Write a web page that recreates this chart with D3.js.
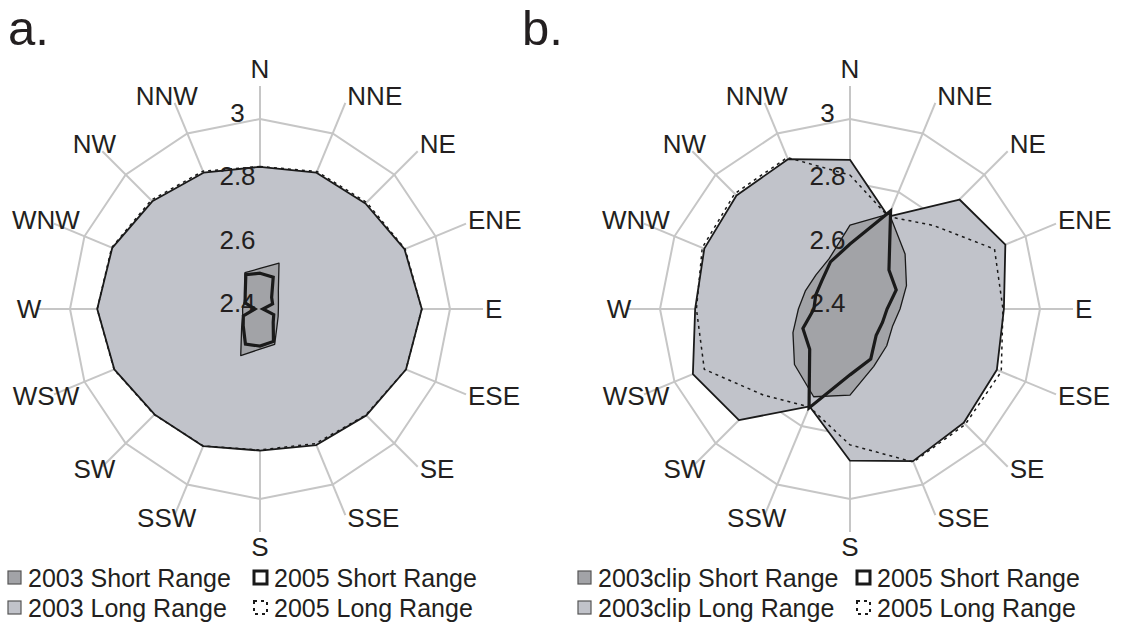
<!DOCTYPE html>
<html>
<head>
<meta charset="utf-8">
<script src="https://cdn.jsdelivr.net/npm/d3@7/dist/d3.min.js"></script>
<style>
  html, body { margin: 0; padding: 0; background: #ffffff; }
  svg { display: block; font-family: "Liberation Sans", Arial, Helvetica, sans-serif; }
</style>
</head>
<body>
<svg id="chart" width="1128" height="634"></svg>
<script>
// Compass directions, clockwise from north
const directions = ["N", "NNE", "NE", "ENE", "E", "ESE", "SE", "SSE",
                    "S", "SSW", "SW", "WSW", "W", "WNW", "NW", "NNW"];
const radialTicks = [2.4, 2.6, 2.8, 3];
const radialDomain = [2.4, 3.0];

// Panel a
const a2003Short = [2.528, 2.557, 2.482, 2.463, 2.458, 2.462, 2.476, 2.521,
                    2.527, 2.559, 2.482, 2.459, 2.455, 2.454, 2.466, 2.524];
const a2005Short = [2.513, 2.509, 2.452, 2.443, 2.409, 2.447, 2.459, 2.511,
                    2.517, 2.520, 2.475, 2.457, 2.416, 2.451, 2.466, 2.517];
const a2003Long  = [2.849, 2.866, 2.871, 2.894, 2.911, 2.899, 2.875, 2.865,
                    2.847, 2.869, 2.871, 2.898, 2.914, 2.905, 2.881, 2.866];
const a2005Long  = [2.850, 2.870, 2.876, 2.896, 2.911, 2.899, 2.873, 2.860,
                    2.845, 2.868, 2.872, 2.899, 2.914, 2.907, 2.886, 2.871];

// Panel b
const b2003Short = [2.665, 2.725, 2.646, 2.593, 2.558, 2.545, 2.564, 2.596,
                    2.672, 2.700, 2.648, 2.595, 2.563, 2.552, 2.552, 2.572];
const b2005Short = [2.605, 2.735, 2.574, 2.558, 2.517, 2.511, 2.517, 2.571,
                    2.608, 2.738, 2.580, 2.561, 2.514, 2.517, 2.526, 2.561];
const b2003Long  = [2.871, 2.716, 2.889, 2.931, 2.886, 2.902, 2.908, 2.920,
                    2.879, 2.733, 2.896, 2.937, 2.889, 2.898, 2.907, 2.912];
const b2005Long  = [2.823, 2.716, 2.773, 2.894, 2.883, 2.917, 2.915, 2.923,
                    2.829, 2.735, 2.785, 2.898, 2.885, 2.905, 2.915, 2.918];

const panelTitles = ["a.", "b."];
const legendA = ["2003 Short Range", "2005 Short Range", "2003 Long Range", "2005 Long Range"];
const legendB = ["2003clip Short Range", "2005 Short Range", "2003clip Long Range", "2005 Long Range"];

const COLORS = {
  grid: "#c6c6c6",
  longFill: "#c1c3ca",
  shortFill: "#a2a3a7",
  ink: "#1a1a1a",
  text: "#231f20"
};

const svg = d3.select("#chart");
const OUTER = 190;
const SPOKE = 223;
const FONT = 26;

const r = d3.scaleLinear().domain(radialDomain).range([0, OUTER]);
const angle = d3.scalePoint().domain(directions).range([0, 2 * Math.PI * (15 / 16)]);

function radarPath(values) {
  return d3.lineRadial()
    .angle((d, i) => angle(directions[i]))
    .radius(d => r(d))
    .curve(d3.curveLinearClosed)(values);
}

// Category label placement just beyond the end of each spoke
function labelPlacement(a) {
  const s = Math.sin(a), c = Math.cos(a);
  const ex = SPOKE * s, ey = -SPOKE * c;
  if (Math.abs(s) < 0.01) {
    return { x: ex, y: ey + (c > 0 ? -17 : 15), anchor: "middle" };
  }
  const dy = c > 0 ? -7.5 * Math.min(1, 1.4 * c) : 3 * (-c);
  if (s > 0) return { x: ex + 2, y: ey + dy, anchor: "start" };
  return { x: ex - 8, y: ey + dy, anchor: "middle" };
}

function drawPanel(cx, cy, title, titleX, series, legendLabels, legendX) {
  const g = svg.append("g").attr("transform", `translate(${cx},${cy})`);

  // grid rings (polygons) and spokes
  radialTicks.filter(t => t > radialDomain[0]).forEach(t => {
    g.append("path")
      .attr("d", radarPath(directions.map(() => t)))
      .attr("fill", "none")
      .attr("stroke", COLORS.grid)
      .attr("stroke-width", 2);
  });
  directions.forEach(d => {
    const a = angle(d);
    g.append("line")
      .attr("x1", 0).attr("y1", 0)
      .attr("x2", SPOKE * Math.sin(a))
      .attr("y2", -SPOKE * Math.cos(a))
      .attr("stroke", COLORS.grid)
      .attr("stroke-width", 2);
  });

  // long range fill and 2005 long range dashed outline
  g.append("path")
    .attr("d", radarPath(series.long2003))
    .attr("fill", COLORS.longFill)
    .attr("stroke", COLORS.ink)
    .attr("stroke-width", 1.8)
    .attr("stroke-linejoin", "round");
  g.append("path")
    .attr("d", radarPath(series.long2005))
    .attr("fill", "none")
    .attr("stroke", COLORS.ink)
    .attr("stroke-width", 1.5)
    .attr("stroke-dasharray", "3,4");

  // short range fill
  g.append("path")
    .attr("d", radarPath(series.short2003))
    .attr("fill", COLORS.shortFill)
    .attr("stroke", COLORS.ink)
    .attr("stroke-width", 1.3)
    .attr("stroke-linejoin", "round");

  // radial tick labels along the north spoke
  radialTicks.forEach(t => {
    g.append("text")
      .attr("x", -22.5)
      .attr("y", -r(t) + 3)
      .attr("text-anchor", "middle")
      .attr("font-size", FONT)
      .attr("fill", COLORS.text)
      .text(t);
  });

  // 2005 short range thick outline
  g.append("path")
    .attr("d", radarPath(series.short2005))
    .attr("fill", "none")
    .attr("stroke", COLORS.ink)
    .attr("stroke-width", 3.2)
    .attr("stroke-linejoin", "miter");

  // direction labels
  directions.forEach(d => {
    const p = labelPlacement(angle(d));
    g.append("text")
      .attr("x", p.x)
      .attr("y", p.y + 0.358 * FONT)
      .attr("text-anchor", p.anchor)
      .attr("font-size", FONT)
      .attr("fill", COLORS.text)
      .text(d);
  });

  // panel title
  svg.append("text")
    .attr("x", titleX)
    .attr("y", 45)
    .attr("font-size", 49)
    .attr("fill", COLORS.text)
    .text(title);

  // legend
  const styles = [
    { fill: COLORS.shortFill, stroke: "#555", sw: 1.2, dash: null },
    { fill: "#fff", stroke: COLORS.ink, sw: 3, dash: null },
    { fill: COLORS.longFill, stroke: "#555", sw: 1.2, dash: null },
    { fill: "none", stroke: COLORS.ink, sw: 2, dash: "3,4" }
  ];
  const rowY = [587, 617];
  legendLabels.forEach((lab, i) => {
    const col = i % 2, row = Math.floor(i / 2);
    const lx = legendX[col], ly = rowY[row];
    const st = styles[i];
    svg.append("rect")
      .attr("x", lx + 1).attr("y", ly - 16)
      .attr("width", 13).attr("height", 13)
      .attr("fill", st.fill)
      .attr("stroke", st.stroke)
      .attr("stroke-width", st.sw)
      .attr("stroke-dasharray", st.dash);
    svg.append("text")
      .attr("x", lx + 21)
      .attr("y", ly)
      .attr("font-size", 25)
      .attr("fill", COLORS.text)
      .text(lab);
  });
}

drawPanel(260, 309, panelTitles[0], 8,
  { short2003: a2003Short, short2005: a2005Short, long2003: a2003Long, long2005: a2005Long },
  legendA, [7, 253]);
drawPanel(850, 309, panelTitles[1], 522,
  { short2003: b2003Short, short2005: b2005Short, long2003: b2003Long, long2005: b2005Long },
  legendB, [577, 856]);
</script>
</body>
</html>
